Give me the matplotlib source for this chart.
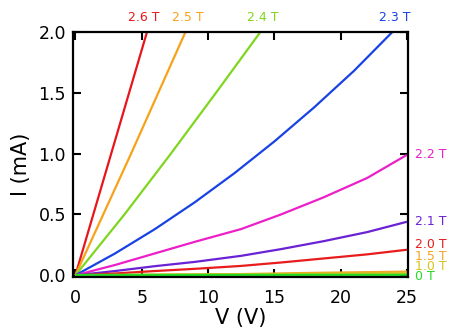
# I-V curves at different magnetic fields

import numpy as np
import matplotlib
matplotlib.use('Agg')
import matplotlib.pyplot as plt

# values (V in volts, I in mA)
v_26 = [0, 1.35, 2.7, 4.05, 5.4]
i_26 = [0, 0.5, 1.0, 1.5, 2.0]
v_25 = [0, 2.1, 4.2, 6.25, 8.3]
i_25 = [0, 0.5, 1.0, 1.5, 2.0]
v_24 = [0, 3.7, 7.2, 10.6, 13.95]
i_24 = [0, 0.5, 1.0, 1.5, 2.0]
v_23 = [0, 3, 6, 9, 12, 15, 18, 21, 23.9]
i_23 = [0, 0.18, 0.38, 0.6, 0.84, 1.1, 1.38, 1.68, 2.0]
v_22 = [0, 3, 6, 9, 12.5, 15.5, 18.7, 22, 25]
i_22 = [0, 0.085, 0.18, 0.275, 0.38, 0.5, 0.64, 0.8, 0.99]
v_21 = [0, 3, 6, 9, 12.5, 15.5, 18.7, 22, 25]
i_21 = [0, 0.035, 0.075, 0.11, 0.16, 0.215, 0.28, 0.355, 0.44]
v_20 = [0, 3, 6, 9, 12.5, 15.5, 18.7, 22, 25]
i_20 = [0, 0.015, 0.035, 0.053, 0.077, 0.105, 0.138, 0.172, 0.21]
v_15 = [0, 12.5, 18, 25]
i_15 = [0, 0.01, 0.02, 0.03]
v_10 = [0, 12.5, 25]
i_10 = [0, 0.008, 0.016]
v_00 = [0, 25]
i_00 = [0.003, 0.004]

curves = [
    (v_26, i_26, '#e8161b', '2.6 T'),
    (v_25, i_25, '#f7a21b', '2.5 T'),
    (v_24, i_24, '#7fd61f', '2.4 T'),
    (v_23, i_23, '#1842e3', '2.3 T'),
    (v_22, i_22, '#ec1fc8', '2.2 T'),
    (v_21, i_21, '#6a22d4', '2.1 T'),
    (v_20, i_20, '#e81c1c', '2.0 T'),
    (v_15, i_15, '#f2a62a', '1.5 T'),
    (v_10, i_10, '#d6c41a', '1.0 T'),
    (v_00, i_00, '#24dc24', '0 T'),
]

# label spots: top row (x in data units) and right column (y in figure px from top)
TOP_LABELS = {'2.6 T': 5.15, '2.5 T': 8.5, '2.4 T': 14.1, '2.3 T': 24.1}
RIGHT_LABELS = {'2.2 T': 155, '2.1 T': 221.5, '2.0 T': 244, '1.5 T': 256, '1.0 T': 266.5, '0 T': 277}

W, H = 451, 331
fig = plt.figure(figsize=(W / 100, H / 100), dpi=100)
ax = fig.add_axes([73 / W, 1 - 276.5 / H, 335 / W, 244.5 / H])

for v, i, col, lab in curves:
    ax.plot(v, i, color=col, linewidth=1.6, solid_capstyle='butt')

ax.set_xlim(-0.18, 25.08)
ax.set_ylim(-0.01, 2.0)
ax.set_xticks([0, 5, 10, 15, 20, 25])
ax.set_yticks([0.0, 0.5, 1.0, 1.5, 2.0])
ax.set_yticklabels(['0.0', '0.5', '1.0', '1.5', '2.0'])
ax.tick_params(direction='in', length=6, width=1.5, top=True, right=True,
               labelsize=12.5)
ax.tick_params(axis='x', pad=9)
ax.tick_params(axis='y', pad=5)
for s in ax.spines.values():
    s.set_linewidth(1.6)

ax.set_xlabel('V (V)', fontsize=15, labelpad=1)
ax.set_ylabel('I (mA)', fontsize=15)
ax.yaxis.set_label_coords(-0.125, 0.46)

for v, i, col, lab in curves:
    if lab in TOP_LABELS:
        ax.text(TOP_LABELS[lab], 2.12, lab, color=col, fontsize=9,
                ha='center', va='center', clip_on=False)
    else:
        fig.text(415 / W, 1 - RIGHT_LABELS[lab] / H, lab, color=col, fontsize=9,
                 ha='left', va='center')

fig.savefig('out.png', dpi=100)
